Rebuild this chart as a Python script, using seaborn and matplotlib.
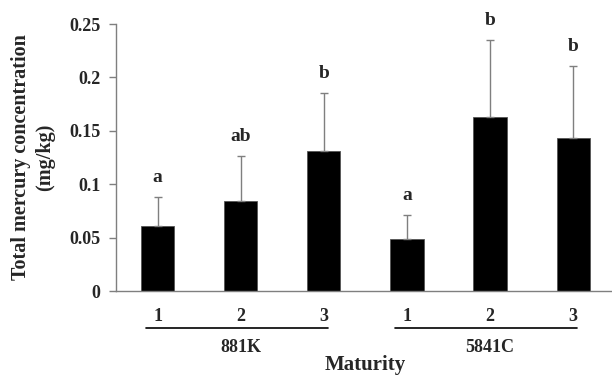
import seaborn as sns
import matplotlib.pyplot as plt
import matplotlib.transforms as mtransforms
import pandas as pd

# values
cultivars = ['881K', '881K', '881K', '5841C', '5841C', '5841C']
maturity = ['1', '2', '3', '1', '2', '3']
mercury = [0.061, 0.084, 0.131, 0.049, 0.163, 0.143]
sd = [0.027, 0.042, 0.054, 0.022, 0.072, 0.068]
letters = ['a', 'ab', 'b', 'a', 'b', 'b']
groups = ['881K', '5841C']

df = pd.DataFrame({'cultivar': cultivars, 'maturity': maturity, 'hg': mercury})
df['pos'] = range(len(df))

sns.set_style('white')
plt.rcParams['font.family'] = ['Liberation Serif', 'DejaVu Serif']
plt.rcParams['font.weight'] = 'bold'

fig = plt.figure(figsize=(6.12, 3.76), dpi=100)
ax = fig.add_axes([0.1895, 0.226, 0.815, 0.71])

sns.barplot(data=df, x='pos', y='hg', color='black', width=0.4,
            edgecolor='#555555', linewidth=0.6, ax=ax, errorbar=None)
ax.errorbar(df['pos'], df['hg'], yerr=[[0] * len(sd), sd], fmt='none',
            ecolor='#7f7f7f', elinewidth=1, capsize=3, capthick=1)

for i, (v, e, lab) in enumerate(zip(mercury, sd, letters)):
    ax.annotate(lab, (i, v + e), xytext=(0, 8), textcoords='offset points',
                ha='center', va='bottom', fontsize=14, fontweight='bold')

ax.set_ylim(0, 0.25)
ax.set_xlim(-0.5, 5.5)
ax.set_yticks([0, 0.05, 0.1, 0.15, 0.2, 0.25])
ax.set_yticklabels(['0', '0.05', '0.1', '0.15', '0.2', '0.25'])
ax.set_xticks(df['pos'])
ax.set_xticklabels(maturity)
ax.tick_params(axis='x', length=0, pad=12, labelsize=13)
ax.tick_params(axis='y', left=True, length=5, width=1, color='#7f7f7f',
               labelsize=13, pad=6)

for s in ['top', 'right']:
    ax.spines[s].set_visible(False)
for s in ['left', 'bottom']:
    ax.spines[s].set_color('#7f7f7f')
    ax.spines[s].set_linewidth(1)

trans = mtransforms.blended_transform_factory(ax.transData, ax.transAxes)
for g, start in zip(groups, [0, 3]):
    ax.plot([start - 0.14, start + 2.05], [-0.139, -0.139], color='black',
            lw=1.2, transform=trans, clip_on=False)
    ax.text(start + 1, -0.21, g, transform=trans, ha='center', va='center',
            fontsize=13, fontweight='bold')

ax.set_xlabel('Maturity', fontsize=15, fontweight='bold', labelpad=22)
ax.set_ylabel('Total mercury concentration\n(mg/kg)', fontsize=14.5,
              fontweight='bold', labelpad=10, linespacing=1.3)

fig.savefig('out.png', dpi=100)
